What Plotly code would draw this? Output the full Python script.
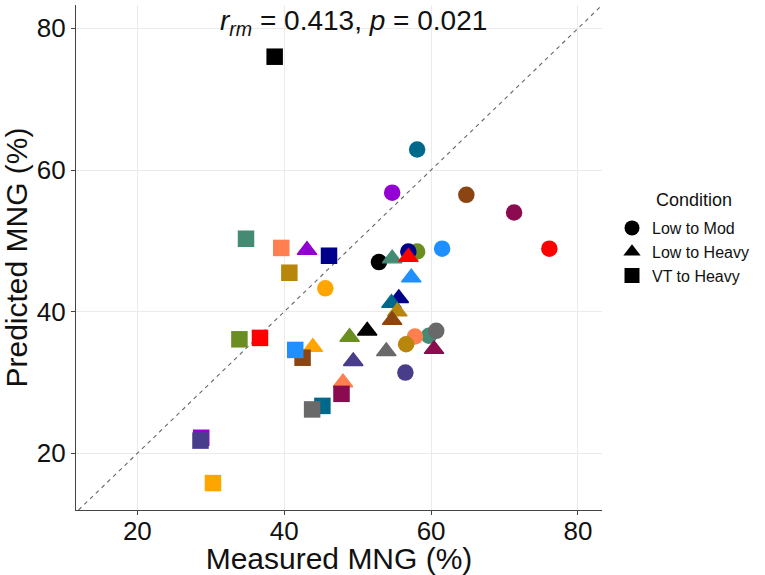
import plotly.graph_objects as go

# Subject colours (one per participant), in plotting order
subject_colors = [
    "#6B8E23", "#00008B", "#00688B", "#458B74", "#696969",
    "#FF7F50", "#B8860B", "#8B4513", "#9400D3", "#483D8B",
    "#000000", "#FF0000", "#1E90FF", "#FFA500", "#8B0A50",
]

# Low to Mod (circles)
mod_measured = [58.1, 56.9, 58.1, 59.7, 60.7, 57.8, 56.6, 64.8, 54.7, 56.5, 52.9, 76.1, 61.5, 45.6, 71.3]
mod_predicted = [48.5, 48.5, 62.9, 36.6, 37.3, 36.5, 35.4, 56.5, 56.8, 31.4, 47.0, 48.9, 48.9, 43.3, 54.0]

# Low to Heavy (triangles)
heavy_measured = [48.9, 55.6, 54.6, 54.7, 53.9, 48.0, 55.4, 54.7, 43.1, 49.4, 51.3, 56.9, 57.3, 43.9, 60.4]
heavy_predicted = [36.4, 41.9, 41.2, 47.5, 34.4, 30.0, 40.0, 38.8, 48.7, 33.0, 37.3, 47.7, 44.8, 35.0, 34.7]

# VT to Heavy (squares)
vt_measured = [33.9, 46.1, 45.2, 34.8, 43.8, 39.6, 40.7, 42.5, 28.7, 28.6, 38.7, 36.7, 41.5, 30.3, 47.8]
vt_predicted = [36.1, 47.9, 26.7, 50.3, 26.2, 49.0, 45.5, 33.5, 22.2, 21.8, 76.0, 36.3, 34.6, 15.8, 28.4]

conditions = ["Low to Mod", "Low to Heavy", "VT to Heavy"]
symbols = ["circle", "triangle-up", "square"]
sizes = [16.5, 17, 16.5]
outline = [0, 1.3, 0]

x_ticks = [20, 40, 60, 80]
y_ticks = [20, 40, 60, 80]
x_range = [11.65, 83.27]
y_range = [12.0, 83.3]

FONT = "Liberation Sans, Arial, sans-serif"

fig = go.Figure()

# identity line y = x
fig.add_trace(go.Scatter(
    x=[12.0, 83.3], y=[12.0, 83.3], mode="lines",
    line=dict(color="#666666", width=1.1, dash="4px,4px"),
    showlegend=False, hoverinfo="skip",
))

series = [
    (mod_measured, mod_predicted),
    (heavy_measured, heavy_predicted),
    (vt_measured, vt_predicted),
]
for (xs, ys), sym, sz, lw in zip(series, symbols, sizes, outline):
    fig.add_trace(go.Scatter(
        x=xs, y=ys, mode="markers",
        marker=dict(symbol=sym, size=sz, color=subject_colors,
                    line=dict(width=lw, color=subject_colors)),
        showlegend=False,
    ))

# legend keys in black
for name, sym in zip(conditions, symbols):
    fig.add_trace(go.Scatter(
        x=[None], y=[None], mode="markers", name=name,
        marker=dict(symbol=sym, size=15, color="black", line=dict(width=0)),
    ))

axis_common = dict(
    showline=True, linecolor="#444444", linewidth=1.3,
    ticks="outside", ticklen=4, tickcolor="#444444", tickwidth=1,
    showgrid=True, gridcolor="#EBEBEB", gridwidth=1,
    zeroline=False, tickfont=dict(size=26, color="#111111", family=FONT),
    mirror=False, automargin=False,
)

fig.update_layout(
    width=765, height=575,
    margin=dict(l=75.7, r=163.3, t=4.5, b=64.5),
    plot_bgcolor="white", paper_bgcolor="white",
    font=dict(family=FONT, color="#111111"),
    xaxis=dict(range=x_range, tickvals=x_ticks, ticklabelstandoff=-6,
               title=dict(text="Measured MNG (%)", font=dict(size=30), standoff=2),
               **axis_common),
    yaxis=dict(range=y_range, tickvals=y_ticks,
               title=dict(text="Predicted MNG (%)", font=dict(size=30), standoff=6),
               **axis_common),
    legend=dict(
        xref="container", yref="container", x=0.80, y=1 - 211 / 575,
        xanchor="left", yanchor="top",
        font=dict(size=16, color="#111111"), bgcolor="rgba(0,0,0,0)",
        itemsizing="trace", tracegroupgap=0,
    ),
    annotations=[
        dict(text="Condition", xref="paper", yref="paper",
             x=(654 - 75.7) / 526, y=1 - (200 - 4.5) / 506, xanchor="left", yanchor="middle",
             showarrow=False, font=dict(size=18, color="#111111")),
        dict(text="<i>r</i><sub><i>rm</i></sub> = 0.413, <i>p</i> = 0.021",
             xref="x", yref="y", x=49.4, y=80.8, xanchor="center", yanchor="middle",
             showarrow=False, font=dict(size=28, color="#111111")),
    ],
)

fig.write_html("out.html")
